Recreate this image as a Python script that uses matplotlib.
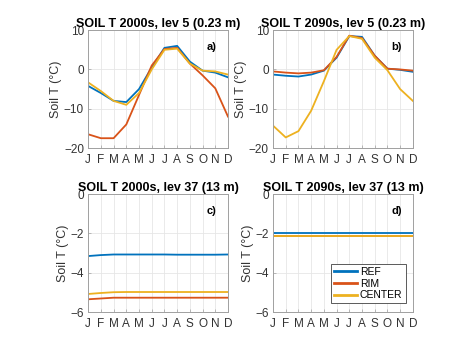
import matplotlib
matplotlib.use('Agg')
import matplotlib.pyplot as plt

plt.rcParams['font.family'] = ['Liberation Sans', 'DejaVu Sans']

# --- colours (MATLAB default order) ---
BLUE   = '#0072BD'
ORANGE = '#D95319'
YELLOW = '#EDB120'

months = ['J', 'F', 'M', 'A', 'M', 'J', 'J', 'A', 'S', 'O', 'N', 'D']
series_names = ['REF', 'RIM', 'CENTER']

# panel a: 2000s, lev 5
a_ref    = [-4.2, -6.0, -8.0, -8.3, -5.0, 0.5, 5.5, 6.0, 2.0, -0.3, -0.8, -2.0]
a_rim    = [-16.5, -17.5, -17.5, -14.0, -6.5, 1.0, 5.2, 5.5, 1.5, -1.5, -4.8, -12.0]
a_center = [-3.3, -5.5, -8.0, -9.0, -6.0, 0.0, 5.0, 5.3, 1.5, -0.3, -0.5, -1.3]

# panel b: 2090s, lev 5
b_ref    = [-1.3, -1.6, -1.8, -1.3, -0.3, 3.0, 8.5, 8.3, 3.5, 0.2, -0.1, -0.6]
b_rim    = [-0.5, -0.8, -1.0, -0.8, -0.2, 3.2, 8.6, 8.0, 3.5, 0.2, 0.0, -0.3]
b_center = [-14.3, -17.3, -15.7, -10.5, -3.0, 5.0, 8.5, 7.8, 3.0, -0.2, -5.0, -8.0]

# panel c: 2000s, lev 37
c_ref    = [-3.15, -3.1, -3.07, -3.07, -3.07, -3.07, -3.07, -3.08, -3.08, -3.08, -3.08, -3.07]
c_rim    = [-5.35, -5.31, -5.27, -5.27, -5.27, -5.27, -5.27, -5.27, -5.27, -5.27, -5.27, -5.27]
c_center = [-5.08, -5.03, -4.99, -4.98, -4.98, -4.98, -4.98, -4.98, -4.98, -4.98, -4.98, -4.98]

# panel d: 2090s, lev 37
d_ref    = [-2.0] * 12
d_rim    = [-2.15] * 12
d_center = [-2.12] * 12

panels = [
    ('SOIL T 2000s, lev 5 (0.23 m)', 'a)', [a_ref, a_rim, a_center], (-20, 10), [-20, -10, 0, 10]),
    ('SOIL T 2090s, lev 5 (0.23 m)', 'b)', [b_ref, b_rim, b_center], (-20, 10), [-20, -10, 0, 10]),
    ('SOIL T 2000s, lev 37 (13 m)', 'c)', [c_ref, c_rim, c_center], (-6, 0), [-6, -4, -2, 0]),
    ('SOIL T 2090s, lev 37 (13 m)', 'd)', [d_ref, d_rim, d_center], (-6, 0), [-6, -4, -2, 0]),
]

positions = [
    [0.186, 0.583, 0.295, 0.332],
    [0.576, 0.583, 0.295, 0.332],
    [0.186, 0.121, 0.295, 0.332],
    [0.576, 0.121, 0.295, 0.332],
]

fig = plt.figure(figsize=(4.74, 3.55), dpi=100)
x = list(range(1, 13))

for (title, tag, data, ylim, yticks), pos in zip(panels, positions):
    ax = fig.add_axes(pos)
    for vals, col, name in zip(data, [BLUE, ORANGE, YELLOW], series_names):
        ax.plot(x, vals, color=col, lw=1.3, label=name)
    ax.set_xlim(1, 12)
    ax.set_ylim(*ylim)
    ax.set_xticks(x)
    ax.set_xticklabels(months)
    ax.set_yticks(yticks)
    ax.grid(True, color='#e6e6e6', lw=0.6)
    ax.set_axisbelow(True)
    for s in ax.spines.values():
        s.set_edgecolor('#a0a0a0')
        s.set_linewidth(0.7)
    ax.tick_params(labelsize=8.5, length=2, width=0.5, direction='in',
                   colors='#a0a0a0', labelcolor='#333333')
    ax.tick_params(axis='x', pad=4)
    ax.tick_params(axis='y', pad=3)
    ax.set_ylabel('Soil T (°C)', fontsize=9, color='#333333', labelpad=1)
    ax.set_title(title, fontsize=9, fontweight='bold', pad=2)
    ax.text(0.92, 0.86, tag, transform=ax.transAxes, fontsize=8,
            fontweight='bold', ha='right', va='center')
    if tag == 'd)':
        leg = ax.legend(loc='lower right', bbox_to_anchor=(0.985, 0.03),
                        fontsize=7.5, handlelength=2.2, handletextpad=0.3,
                        borderpad=0.3, labelspacing=0.15, fancybox=False,
                        framealpha=1, edgecolor='#404040')
        leg.get_frame().set_linewidth(0.6)
        for ln in leg.get_lines():
            ln.set_linewidth(2)

plt.savefig('out.png', dpi=100)
